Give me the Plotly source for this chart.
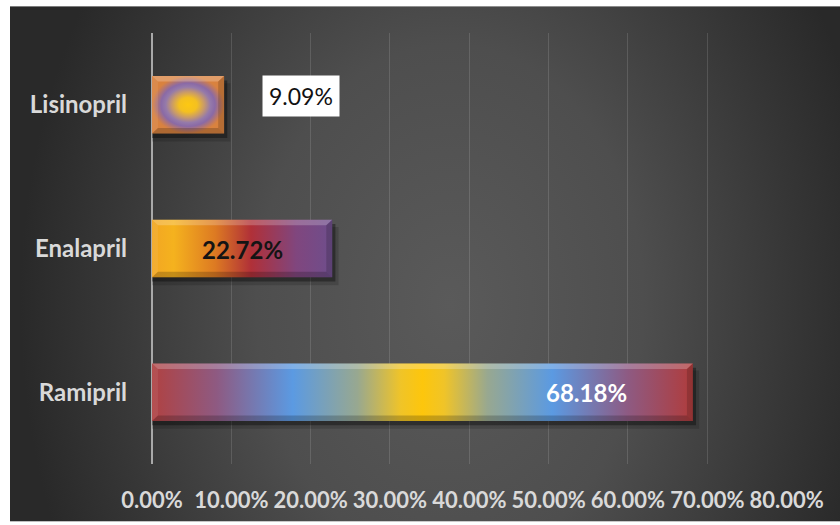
import base64
import plotly.graph_objects as go

# ---- data -------------------------------------------------------------
drugs = ["Ramipril", "Enalapril", "Lisinopril"]
shares = [68.18, 22.72, 9.09]          # percent of prescriptions
x_ticks = [0, 10, 20, 30, 40, 50, 60, 70, 80]
x_tick_labels = [f"{t:.2f}%" for t in x_ticks]

# ---- styling ------------------------------------------------------------
fill_scales = {
    "Ramipril": [[0, "#b04242"], [0.12, "#8e5a82"], [0.26, "#5b9ae2"], [0.38, "#98a890"],
                 [0.46, "#f0c428"], [0.5, "#fdc60c"], [0.54, "#f0c428"], [0.62, "#98a890"],
                 [0.74, "#5b9ae2"], [0.88, "#8e5a82"], [1, "#b03c3c"]],
    "Enalapril": [[0, "#f2a623"], [0.12, "#f5b21e"], [0.35, "#dd7a22"], [0.55, "#b03038"],
                  [0.8, "#80467e"], [1, "#6e4e8c"]],
    "Lisinopril": [[0, "#fdc812"], [0.25, "#f4c020"], [0.45, "#c89a6a"], [0.62, "#957aaa"],
                   [0.75, "#8a6aa6"], [0.92, "#c27a5e"], [1, "#d9823f"]],
}
gradient_type = {"Ramipril": "horizontal", "Enalapril": "horizontal", "Lisinopril": "radial"}
label_style = {
    "Ramipril": dict(x=54.8, dy=0.0, color="white", weight=700, box=None),
    "Enalapril": dict(x=None, dy=-0.01, color="#141414", weight=700, box=None),
    "Lisinopril": dict(x=18.75, dy=0.065, color="#111111", weight=400, box="white"),
}

FONT = "Lato, 'Open Sans', sans-serif"
HALF = 0.2      # half bar thickness (category units)
BX, BY = 0.75, 0.038  # bevel depth in axis units

fig = go.Figure()


def poly(xs, ys, **kw):
    fig.add_trace(go.Scatter(x=xs + [xs[0]], y=ys + [ys[0]], mode="lines", fill="toself",
                             line=dict(width=0), hoverinfo="skip", showlegend=False, **kw))


for i, (name, v) in enumerate(zip(drugs, shares)):
    lo, hi = i - HALF, i + HALF
    # soft drop shadow
    poly([0, v + 0.8, v + 0.8, 0], [lo - 0.055, lo - 0.055, hi - 0.05, hi - 0.05],
         fillcolor="rgba(0,0,0,0.15)")
    poly([0, v + 0.4, v + 0.4, 0], [lo - 0.03, lo - 0.03, hi - 0.03, hi - 0.03],
         fillcolor="rgba(0,0,0,0.35)")
    # the bar itself
    fig.add_trace(go.Scatter(
        x=[0, v, v, 0, 0], y=[lo, lo, hi, hi, lo], mode="lines", fill="toself",
        line=dict(width=0), name=name, showlegend=False,
        fillgradient=dict(type=gradient_type[name], colorscale=fill_scales[name]),
        hovertemplate=f"{name}: {v:.2f}%<extra></extra>"))
    # bevel faces
    poly([0, v, v - BX, BX], [hi, hi, hi - BY, hi - BY], fillcolor="rgba(255,255,255,0.22)")
    poly([0, v, v - BX, BX], [lo, lo, lo + BY, lo + BY], fillcolor="rgba(0,0,0,0.20)")
    poly([0, BX, BX, 0], [lo, lo + BY, hi - BY, hi], fillcolor="rgba(255,255,255,0.07)")
    poly([v, v - BX, v - BX, v], [lo, lo + BY, hi - BY, hi], fillcolor="rgba(0,0,0,0.16)")

    st = label_style[name]
    fig.add_annotation(
        x=st["x"] if st["x"] is not None else v / 2, y=i + st["dy"],
        text=f"{v:.2f}%", showarrow=False,
        font=dict(family=FONT, size=24 if st["box"] is None else 23,
                  color=st["color"], weight=st["weight"]),
        bgcolor=st["box"] if st["box"] else "rgba(0,0,0,0)", borderpad=6)

# dark radial backdrop
bg_svg = (
    "<svg xmlns='http://www.w3.org/2000/svg' width='830' height='519' viewBox='0 0 830 519' "
    "preserveAspectRatio='none'><defs>"
    "<radialGradient id='g' gradientUnits='userSpaceOnUse' cx='440' cy='300' r='430' "
    "gradientTransform='translate(440 300) scale(1 1.35) translate(-440 -300)'>"
    "<stop offset='0' stop-color='#5a5a5a'/><stop offset='0.45' stop-color='#4e4e4e'/>"
    "<stop offset='0.8' stop-color='#363636'/><stop offset='1' stop-color='#292929'/>"
    "</radialGradient></defs><rect width='830' height='519' fill='url(#g)'/></svg>"
)
bg_uri = "data:image/svg+xml;base64," + base64.b64encode(bg_svg.encode()).decode()

ML, MR, MT, MB = 152, 53, 33, 58
W, H = 840, 525
pw, ph = W - ML - MR, H - MT - MB
fig.add_layout_image(
    source=bg_uri, xref="paper", yref="paper",
    x=(10 - ML) / pw, y=(H - MB - 6) / ph,
    sizex=(W - 10) / pw, sizey=(H - 6) / ph,
    xanchor="left", yanchor="top", sizing="stretch", layer="below")

fig.update_layout(
    width=W, height=H, autosize=False,
    margin=dict(l=ML, r=MR, t=MT, b=MB),
    paper_bgcolor="white", plot_bgcolor="rgba(0,0,0,0)",
    showlegend=False,
    xaxis=dict(range=[0, 80.05], tickvals=x_ticks, ticktext=x_tick_labels,
               showgrid=True, gridcolor="rgba(255,255,255,0.13)", gridwidth=1,
               zeroline=True, zerolinecolor="#a9a9a9", zerolinewidth=2,
               showline=False, ticks="", ticklabelstandoff=21,
               tickfont=dict(family=FONT, size=22, color="#d9d9d9", weight=700)),
    yaxis=dict(range=[-0.5, 2.5], tickvals=list(range(len(drugs))), ticktext=drugs,
               showgrid=False, zeroline=False, showline=False, ticks="",
               ticklabelstandoff=24,
               tickfont=dict(family=FONT, size=24, color="#d9d9d9", weight=700)),
)

fig.write_html("out.html")
